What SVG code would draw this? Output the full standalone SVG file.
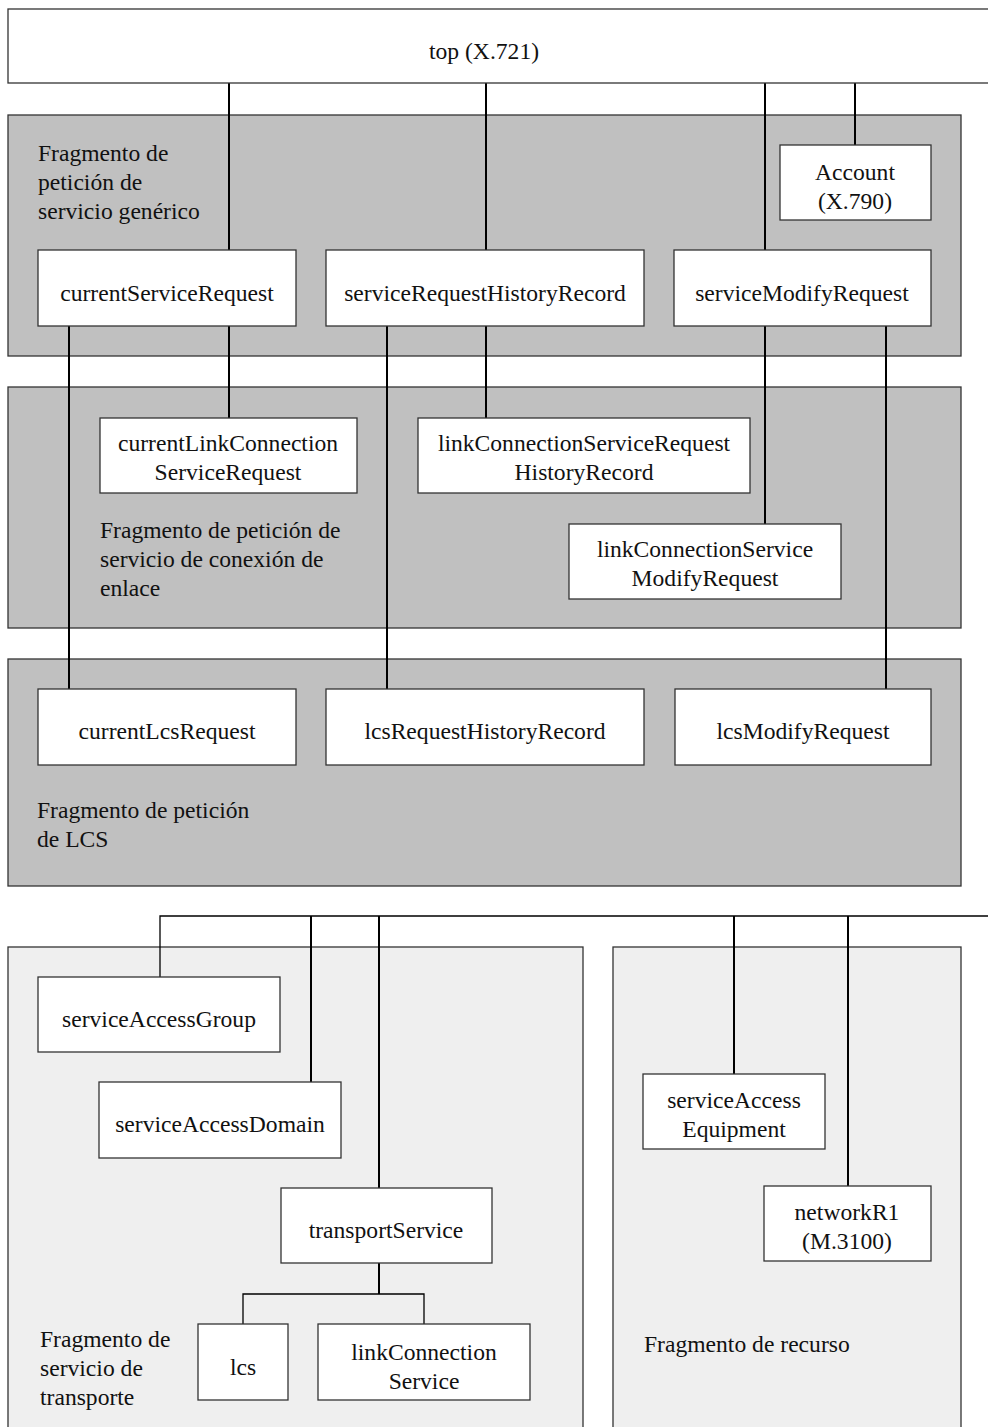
<svg xmlns="http://www.w3.org/2000/svg" width="988" height="1427" viewBox="0 0 988 1427">
<style>
text{font-family:"Liberation Serif","Times New Roman",serif;font-size:23.6px;fill:#111}
.c{text-anchor:middle}
.box{fill:#fff;stroke:#333;stroke-width:1.3}
.pd{fill:#c0c0c0;stroke:#333;stroke-width:1.3}
.pl{fill:#efefef;stroke:#333;stroke-width:1.3}
.k{stroke:#000;stroke-width:2;fill:none}
.t{stroke:#000;stroke-width:1.3;fill:none}
</style>
<rect width="988" height="1427" fill="#fff"/>
<g id="panels">
<rect id="p-generic" class="pd" x="8" y="115" width="953" height="241"/>
<rect id="p-link" class="pd" x="8" y="387" width="953" height="241"/>
<rect id="p-lcs" class="pd" x="8" y="659" width="953" height="227"/>
<rect id="p-transport" class="pl" x="8" y="947" width="575" height="500"/>
<rect id="p-resource" class="pl" x="613" y="947" width="348" height="500"/>
<text x="38" y="161">Fragmento de</text>
<text x="38" y="190">petición de</text>
<text x="38" y="219">servicio genérico</text>
<text x="100" y="538">Fragmento de petición de</text>
<text x="100" y="567">servicio de conexión de</text>
<text x="100" y="596">enlace</text>
<text x="37" y="818">Fragmento de petición</text>
<text x="37" y="847">de LCS</text>
<text x="40" y="1347">Fragmento de</text>
<text x="40" y="1376">servicio de</text>
<text x="40" y="1405">transporte</text>
<text x="644" y="1352">Fragmento de recurso</text>
</g>
<g id="connectors">
<line class="k" x1="229" y1="83" x2="229" y2="250"/>
<line class="k" x1="486" y1="83" x2="486" y2="250"/>
<line class="k" x1="765" y1="83" x2="765" y2="250"/>
<line class="k" x1="855" y1="83" x2="855" y2="145"/>
<line class="k" x1="69" y1="326" x2="69" y2="689"/>
<line class="k" x1="229" y1="326" x2="229" y2="418"/>
<line class="k" x1="387" y1="326" x2="387" y2="689"/>
<line class="k" x1="486" y1="326" x2="486" y2="418"/>
<line class="k" x1="765" y1="326" x2="765" y2="524"/>
<line class="k" x1="886" y1="326" x2="886" y2="689"/>
<polyline class="t" points="160,977 160,916 988,916"/>
<line class="k" x1="311" y1="916" x2="311" y2="1082"/>
<line class="k" x1="379" y1="916" x2="379" y2="1188"/>
<line class="k" x1="734" y1="916" x2="734" y2="1074"/>
<line class="k" x1="848" y1="916" x2="848" y2="1186"/>
<line class="k" x1="379" y1="1263" x2="379" y2="1294"/>
<polyline class="t" points="243,1324 243,1294 424,1294 424,1324"/>
</g>
<g id="n-top"><rect class="box" x="8" y="9" width="990" height="74"/><text class="c" x="484" y="59">top (X.721)</text></g>
<g id="n-account"><rect class="box" x="780" y="145" width="151" height="75"/><text class="c" x="855" y="180">Account</text><text class="c" x="855" y="209">(X.790)</text></g>
<g id="n-currentServiceRequest"><rect class="box" x="38" y="250" width="258" height="76"/><text class="c" x="167" y="301">currentServiceRequest</text></g>
<g id="n-serviceRequestHistoryRecord"><rect class="box" x="326" y="250" width="318" height="76"/><text class="c" x="485" y="301">serviceRequestHistoryRecord</text></g>
<g id="n-serviceModifyRequest"><rect class="box" x="674" y="250" width="257" height="76"/><text class="c" x="802" y="301">serviceModifyRequest</text></g>
<g id="n-currentLinkConnectionServiceRequest"><rect class="box" x="100" y="418" width="257" height="75"/><text class="c" x="228" y="451">currentLinkConnection</text><text class="c" x="228" y="480">ServiceRequest</text></g>
<g id="n-linkConnectionServiceRequestHistoryRecord"><rect class="box" x="418" y="418" width="332" height="75"/><text class="c" x="584" y="451">linkConnectionServiceRequest</text><text class="c" x="584" y="480">HistoryRecord</text></g>
<g id="n-linkConnectionServiceModifyRequest"><rect class="box" x="569" y="524" width="272" height="75"/><text class="c" x="705" y="557">linkConnectionService</text><text class="c" x="705" y="586">ModifyRequest</text></g>
<g id="n-currentLcsRequest"><rect class="box" x="38" y="689" width="258" height="76"/><text class="c" x="167" y="739">currentLcsRequest</text></g>
<g id="n-lcsRequestHistoryRecord"><rect class="box" x="326" y="689" width="318" height="76"/><text class="c" x="485" y="739">lcsRequestHistoryRecord</text></g>
<g id="n-lcsModifyRequest"><rect class="box" x="675" y="689" width="256" height="76"/><text class="c" x="803" y="739">lcsModifyRequest</text></g>
<g id="n-serviceAccessGroup"><rect class="box" x="38" y="977" width="242" height="75"/><text class="c" x="159" y="1027">serviceAccessGroup</text></g>
<g id="n-serviceAccessDomain"><rect class="box" x="99" y="1082" width="242" height="76"/><text class="c" x="220" y="1132">serviceAccessDomain</text></g>
<g id="n-transportService"><rect class="box" x="281" y="1188" width="211" height="75"/><text class="c" x="386" y="1238">transportService</text></g>
<g id="n-lcs"><rect class="box" x="198" y="1324" width="90" height="76"/><text class="c" x="243" y="1375">lcs</text></g>
<g id="n-linkConnectionService"><rect class="box" x="318" y="1324" width="212" height="76"/><text class="c" x="424" y="1360">linkConnection</text><text class="c" x="424" y="1389">Service</text></g>
<g id="n-serviceAccessEquipment"><rect class="box" x="643" y="1074" width="182" height="75"/><text class="c" x="734" y="1108">serviceAccess</text><text class="c" x="734" y="1137">Equipment</text></g>
<g id="n-networkR1"><rect class="box" x="764" y="1186" width="167" height="75"/><text class="c" x="847" y="1220">networkR1</text><text class="c" x="847" y="1249">(M.3100)</text></g>
</svg>
